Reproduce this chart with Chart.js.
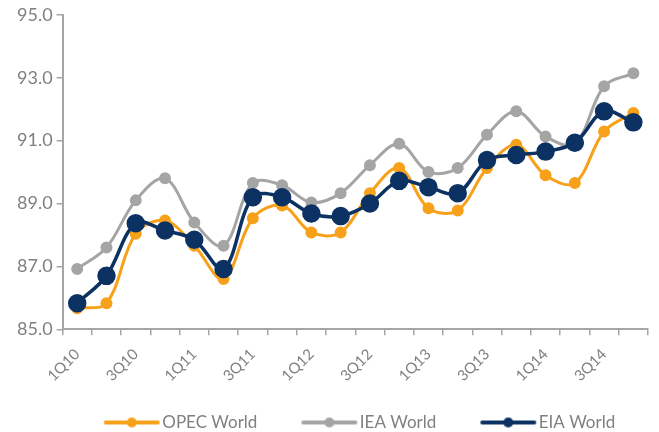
<!DOCTYPE html>
<html>
<head>
<meta charset="utf-8">
<script src="https://cdn.jsdelivr.net/npm/chart.js@4"></script>
<style>
  html, body { margin: 0; padding: 0; background: #fff; }
  #wrap { width: 659px; height: 432px; }
</style>
</head>
<body>
<div id="wrap"><canvas id="demandChart"></canvas></div>
<script>
// quarterly world oil demand estimates, mb/d
const quarters = [
  '1Q10', '2Q10', '3Q10', '4Q10',
  '1Q11', '2Q11', '3Q11', '4Q11',
  '1Q12', '2Q12', '3Q12', '4Q12',
  '1Q13', '2Q13', '3Q13', '4Q13',
  '1Q14', '2Q14', '3Q14', '4Q14'
];
const opecWorld = [85.67, 85.83, 88.04, 88.46, 87.66, 86.60, 88.53, 88.94, 88.08, 88.08,
                   89.33, 90.13, 88.85, 88.78, 90.13, 90.87, 89.90, 89.65, 91.29, 91.88];
const ieaWorld  = [86.92, 87.60, 89.10, 89.80, 88.40, 87.66, 89.65, 89.58, 89.03, 89.33,
                   90.22, 90.90, 90.00, 90.13, 91.19, 91.93, 91.13, 90.90, 92.73, 93.14];
const eiaWorld  = [85.83, 86.70, 88.37, 88.14, 87.85, 86.92, 89.20, 89.20, 88.68, 88.60,
                   89.00, 89.72, 89.52, 89.33, 90.38, 90.54, 90.65, 90.93, 91.93, 91.58];

const yTicks = [85, 87, 89, 91, 93, 95];

const ORANGE = '#f7a11a';
const GREY = '#a5a5a5';
const NAVY = '#0b3262';
const AXIS = '#a6a6a6';
const TEXT = '#808080';
const FONT = "Lato, 'Open Sans', sans-serif";

// legend box width and icon canvas: the line sits at the right end of the
// canvas so it ends just before the text, the left part is empty spacing
const ICON_BOX = 75;
const ICON_W = ICON_BOX + 22;

function legendIcon(color, r) {
  const c = document.createElement('canvas');
  c.width = ICON_W;
  c.height = 14;
  const g = c.getContext('2d');
  g.strokeStyle = color;
  g.lineWidth = 4;
  g.lineCap = 'round';
  g.beginPath();
  g.moveTo(ICON_W - 59, 7);
  g.lineTo(ICON_W - 7, 7);
  g.stroke();
  g.fillStyle = color;
  g.beginPath();
  g.arc(ICON_W - 33, 7, r, 0, Math.PI * 2);
  g.fill();
  return c;
}

// nudge the legend row to the right
const legendShift = {
  id: 'legendShift',
  afterLayout(chart) {
    chart.legend.left += 15;
    chart.legend.right += 15;
  }
};

const ctx = document.getElementById('demandChart').getContext('2d');
const demandChart = new Chart(ctx, {
  type: 'line',
  data: {
    labels: quarters,
    datasets: [{
      label: 'OPEC World',
      data: opecWorld,
      borderColor: ORANGE,
      backgroundColor: ORANGE,
      borderWidth: 3,
      pointRadius: 4.5,
      tension: 0.35,
      order: 2,
      legendIcon: legendIcon(ORANGE, 5)
    }, {
      label: 'IEA World',
      data: ieaWorld,
      borderColor: GREY,
      backgroundColor: GREY,
      borderWidth: 3,
      pointRadius: 4.5,
      tension: 0.35,
      order: 1,
      legendIcon: legendIcon(GREY, 5)
    }, {
      label: 'EIA World',
      data: eiaWorld,
      borderColor: NAVY,
      backgroundColor: NAVY,
      borderWidth: 3.5,
      pointRadius: 7.5,
      tension: 0.35,
      order: 0,
      legendIcon: legendIcon(NAVY, 5)
    }]
  },
  options: {
    responsive: true,
    maintainAspectRatio: false,
    animation: false,
    layout: { padding: { top: 8, left: 13, right: 8, bottom: -9 } },
    plugins: {
      tooltip: { enabled: false },
      legend: {
        position: 'bottom',
        labels: {
          usePointStyle: true,
          pointStyleWidth: ICON_BOX,
          boxHeight: 14,
          padding: 19,
          color: TEXT,
          font: { family: FONT, size: 17 },
          generateLabels: (chart) => chart.data.datasets.map((ds, i) => ({
            text: ds.label,
            datasetIndex: i,
            pointStyle: ds.legendIcon,
            fontColor: TEXT,
            strokeStyle: ds.borderColor,
            fillStyle: ds.backgroundColor,
            lineWidth: 0,
            hidden: false
          }))
        }
      }
    },
    scales: {
      x: {
        offset: true,
        grid: {
          offset: true,
          drawOnChartArea: false,
          drawTicks: true,
          tickLength: 6,
          color: AXIS,
          lineWidth: 1.5
        },
        border: { color: AXIS, width: 2 },
        ticks: {
          autoSkip: false,
          maxRotation: 45,
          minRotation: 45,
          padding: 10,
          color: TEXT,
          font: { family: FONT, size: 15 },
          callback: function (value, index) {
            return index % 2 === 0 ? quarters[index] : '';
          }
        }
      },
      y: {
        min: 85,
        max: 95,
        afterBuildTicks: (axis) => { axis.ticks = yTicks.map(v => ({ value: v })); },
        grid: {
          drawOnChartArea: false,
          drawTicks: true,
          tickLength: 6,
          color: AXIS,
          lineWidth: 1.5
        },
        border: { color: AXIS, width: 2 },
        ticks: {
          padding: 4,
          color: TEXT,
          font: { family: FONT, size: 18 },
          callback: (v) => Number(v).toFixed(1)
        }
      }
    }
  },
  plugins: [legendShift]
});
</script>
</body>
</html>
